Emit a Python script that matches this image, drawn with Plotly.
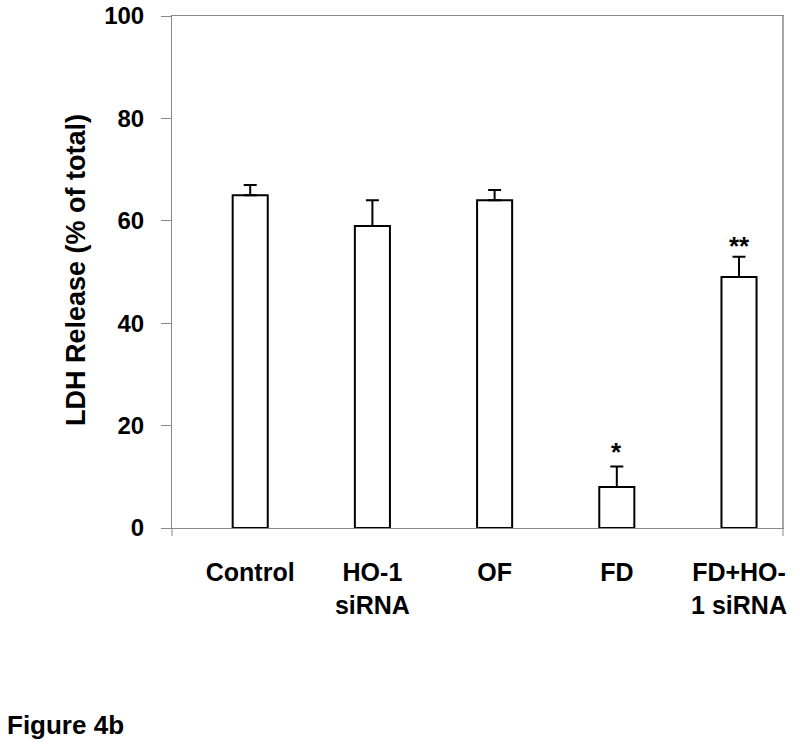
import plotly.graph_objects as go

categories = ["Control", "HO-1 siRNA", "OF", "FD", "FD+HO-1 siRNA"]
tick_labels = ["Control", "HO-1<br>siRNA", "OF", "FD", "FD+HO-<br>1 siRNA"]
means = [65, 59, 64, 8, 49]
errors = [2, 5, 2, 4, 4]
marks = ["", "", "", "*", "**"]
y_ticks = [0, 20, 40, 60, 80, 100]

FONT = "Arial, Liberation Sans, sans-serif"
xpos = list(range(len(categories)))

fig = go.Figure()
fig.add_trace(go.Bar(
    x=xpos, y=means, width=0.287,
    marker=dict(color="white", line=dict(color="black", width=2)),
    error_y=dict(type="data", symmetric=False, array=errors,
                 arrayminus=[0] * len(errors), color="black",
                 thickness=2, width=6.5),
    showlegend=False,
))

for xi, m, e, s in zip(xpos, means, errors, marks):
    if s:
        fig.add_annotation(x=xi, y=m + e, text="<b>%s</b>" % s, showarrow=False,
                           xref="x", yref="y", yanchor="bottom",
                           yshift=-2 if len(s) == 1 else -6,
                           font=dict(family=FONT, size=26, color="black"))

fig.add_annotation(text="<b>LDH Release (% of total)</b>", textangle=-90,
                   xref="paper", yref="paper", x=0, y=0.504, xanchor="center",
                   yanchor="middle", xshift=-96, showarrow=False,
                   font=dict(family=FONT, size=27, color="black"))

fig.add_annotation(text="<b>Figure 4b</b>", xref="paper", yref="paper",
                   x=0, y=-0.385, xanchor="left", yanchor="middle", xshift=-167,
                   showarrow=False, font=dict(family=FONT, size=26, color="black"))

# small category-boundary ticks below the axis at both ends, and a heavier right border
for xp in (0, 1):
    fig.add_shape(type="line", xref="paper", yref="paper", x0=xp, x1=xp,
                  ysizemode="pixel", yanchor=0, y0=0, y1=-8,
                  line=dict(color="#888888", width=1))
fig.add_shape(type="line", xref="paper", yref="paper", x0=1, x1=1, y0=0, y1=1,
              line=dict(color="#a8a8a8", width=2))

fig.update_xaxes(
    range=[-0.64, 4.36], tickvals=xpos, ticktext=tick_labels, ticks="",
    showline=True, linecolor="#888888", linewidth=1, mirror=True,
    showgrid=False, zeroline=False, ticklabelstandoff=22, automargin=False,
    tickfont=dict(family=FONT, size=25, color="black", weight="bold"),
)
fig.update_yaxes(
    range=[0, 100], tickvals=y_ticks, ticks="outside", ticklen=10,
    tickcolor="#888888", showline=True, linecolor="#888888", linewidth=1,
    mirror=True, showgrid=False, zeroline=False, ticklabelstandoff=12,
    automargin=False,
    tickfont=dict(family=FONT, size=24, color="black", weight="bold"),
)

fig.update_layout(
    width=800, height=748,
    margin=dict(l=172, r=17, t=16, b=220, autoexpand=False),
    plot_bgcolor="white", paper_bgcolor="white",
    font=dict(family=FONT, color="black"),
)

fig.write_html("out.html", config={"displayModeBar": False},
               post_script="document.body.style.margin='0';document.body.style.overflow='hidden';")
